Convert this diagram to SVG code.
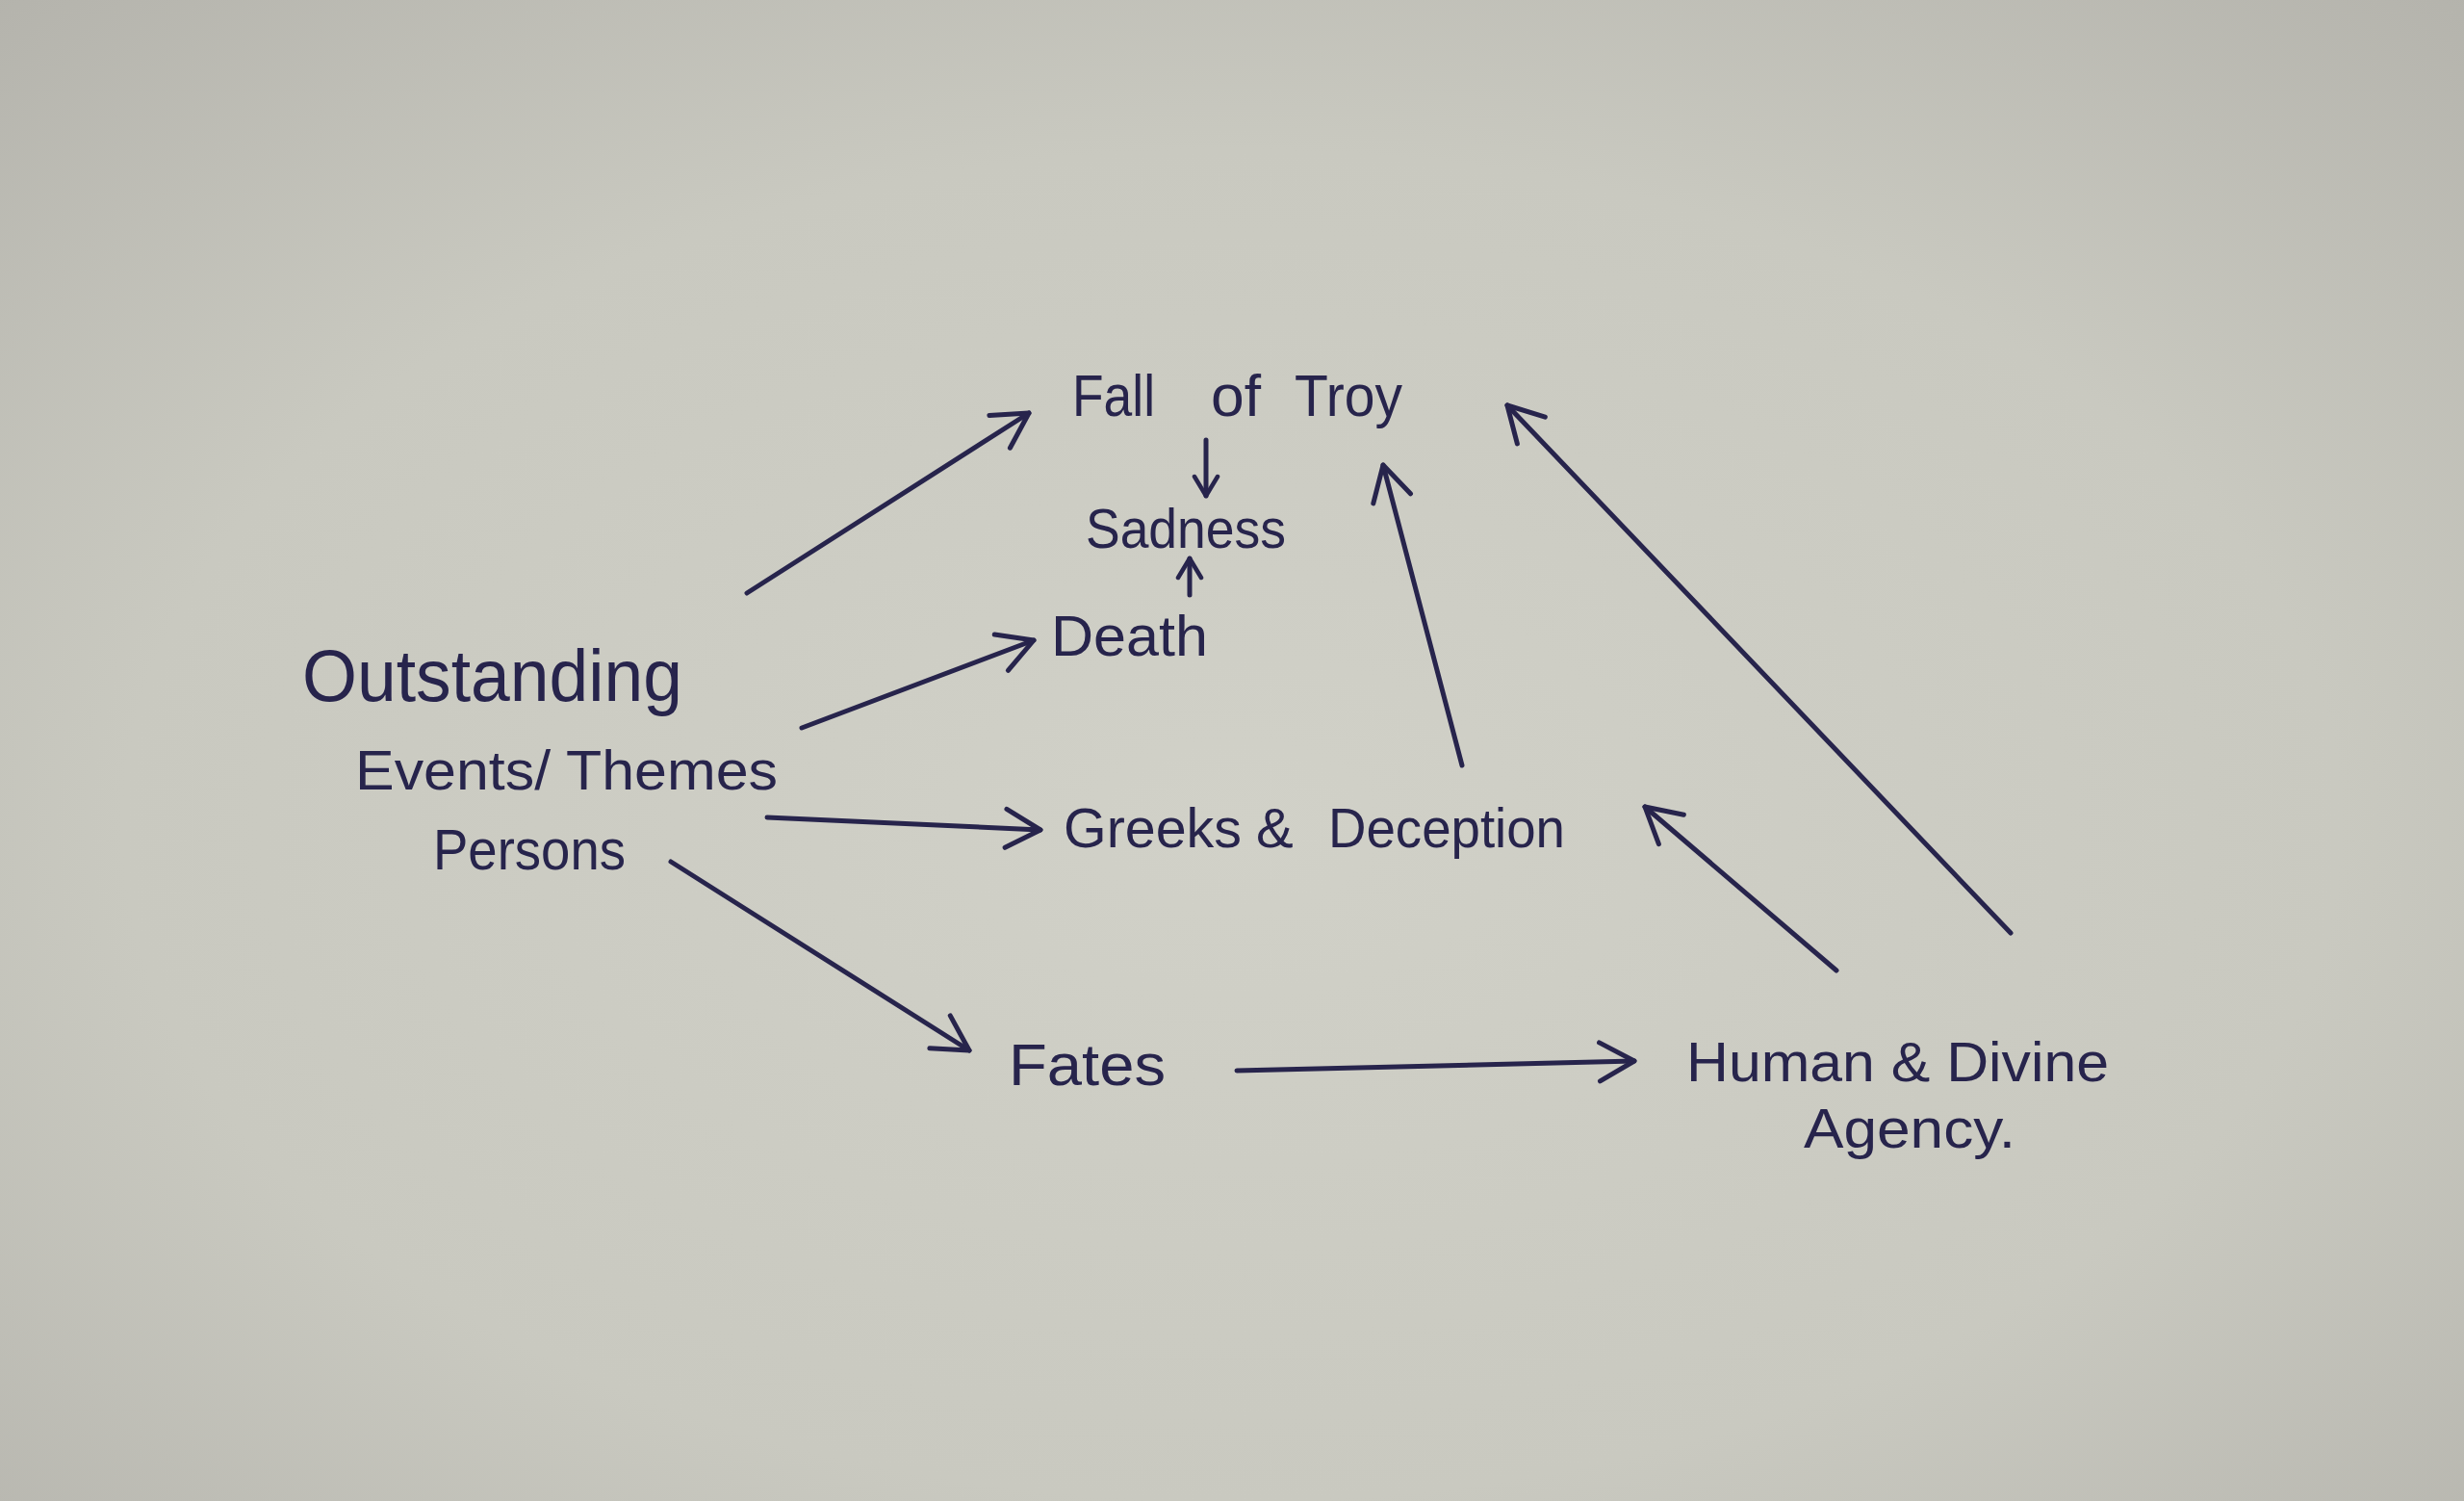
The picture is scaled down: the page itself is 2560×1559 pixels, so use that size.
<svg xmlns="http://www.w3.org/2000/svg" width="2560" height="1559" viewBox="0 0 2560 1559">
<style>
  .lbl { font-family: "Liberation Sans", "DejaVu Sans", sans-serif; fill: #27244c; }
  .con { stroke: #27244c; stroke-width: 5; fill: none; stroke-linecap: round; }
</style>
<defs>
  <radialGradient id="paper" cx="50%" cy="55%" r="75%">
    <stop offset="0" stop-color="#d1d1c8"/>
    <stop offset="0.6" stop-color="#c9c9c0"/>
    <stop offset="1" stop-color="#b4b3ac"/>
  </radialGradient>
  <marker id="head" viewBox="-40 -25 44 50" refX="0" refY="0" markerWidth="44" markerHeight="50" markerUnits="userSpaceOnUse" orient="auto">
    <path d="M -36 -20 L 0 0 L -36 20" fill="none" stroke="#27244c" stroke-width="5" stroke-linecap="round" stroke-linejoin="round"/>
  </marker>
  <marker id="headS" viewBox="-25 -15 28 30" refX="0" refY="0" markerWidth="28" markerHeight="30" markerUnits="userSpaceOnUse" orient="auto">
    <path d="M -20 -12 L 0 0 L -20 12" fill="none" stroke="#27244c" stroke-width="4.5" stroke-linecap="round" stroke-linejoin="round"/>
  </marker>
</defs>
<rect x="0" y="0" width="2560" height="1559" fill="url(#paper)"/>

<g id="connectors">
  <line class="con" x1="776" y1="616" x2="1069" y2="429" marker-end="url(#head)"/>
  <line class="con" x1="1253" y1="457" x2="1253" y2="515" marker-end="url(#headS)"/>
  <line class="con" x1="1236" y1="618" x2="1236" y2="580" marker-end="url(#headS)"/>
  <line class="con" x1="833" y1="756" x2="1074" y2="665" marker-end="url(#head)"/>
  <line class="con" x1="797" y1="849" x2="1081" y2="862" marker-end="url(#head)"/>
  <line class="con" x1="697" y1="895" x2="1007" y2="1091" marker-end="url(#head)"/>
  <line class="con" x1="1285" y1="1112" x2="1698" y2="1102" marker-end="url(#head)"/>
  <line class="con" x1="1519" y1="795" x2="1437" y2="483" marker-end="url(#head)"/>
  <line class="con" x1="1908" y1="1008" x2="1709" y2="838" marker-end="url(#head)"/>
  <line class="con" stroke-width="4" x1="2089" y1="969" x2="1566" y2="421" marker-end="url(#head)"/>
</g>

<g id="node-fall-of-troy">
  <text class="lbl" font-size="62" y="432" x="1114" textLength="86" lengthAdjust="spacingAndGlyphs">Fall</text>
  <text class="lbl" font-size="62" y="432" x="1258" textLength="52" lengthAdjust="spacingAndGlyphs">of</text>
  <text class="lbl" font-size="62" y="432" x="1345" textLength="112" lengthAdjust="spacingAndGlyphs">Troy</text>
</g>
<g id="node-sadness">
  <text class="lbl" x="1128" y="569" font-size="58" textLength="208" lengthAdjust="spacingAndGlyphs">Sadness</text>
</g>
<g id="node-death">
  <text class="lbl" x="1092" y="681" font-size="60" textLength="163" lengthAdjust="spacingAndGlyphs">Death</text>
</g>
<g id="node-outstanding">
  <text class="lbl" x="314" y="728" font-size="76" textLength="395" lengthAdjust="spacingAndGlyphs">Outstanding</text>
  <text class="lbl" x="369" y="820" font-size="58" textLength="439" lengthAdjust="spacingAndGlyphs">Events/ Themes</text>
  <text class="lbl" x="450" y="903" font-size="60" textLength="200" lengthAdjust="spacingAndGlyphs">Persons</text>
</g>
<g id="node-greeks-deception">
  <text class="lbl" font-size="58" y="880" x="1105" textLength="185" lengthAdjust="spacingAndGlyphs">Greeks</text>
  <text class="lbl" font-size="58" y="880" x="1305">&amp;</text>
  <text class="lbl" font-size="58" y="880" x="1380" textLength="246" lengthAdjust="spacingAndGlyphs">Deception</text>
</g>
<g id="node-fates">
  <text class="lbl" x="1048" y="1127" font-size="62" textLength="163" lengthAdjust="spacingAndGlyphs">Fates</text>
</g>
<g id="node-human-divine">
  <text class="lbl" x="1752" y="1123" font-size="58" textLength="439" lengthAdjust="spacingAndGlyphs">Human &amp; Divine</text>
  <text class="lbl" x="1874" y="1192" font-size="58" textLength="220" lengthAdjust="spacingAndGlyphs">Agency.</text>
</g>
</svg>
